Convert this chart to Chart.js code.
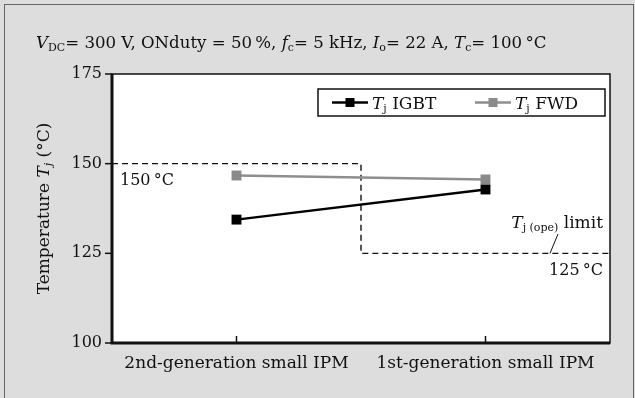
<!DOCTYPE html>
<html>
<head>
<meta charset="utf-8">
<script src="https://cdn.jsdelivr.net/npm/chart.js@4.4.1/dist/chart.umd.min.js"></script>
<style>
  html, body { margin: 0; padding: 0; background: #dcdddc; }
  #wrap { width: 635px; height: 398px; }
</style>
</head>
<body>
<div id="wrap"><canvas id="chart" width="635" height="398"></canvas></div>
<script>
// chart data
const categories = ['2nd-generation small IPM', '1st-generation small IPM'];
const igbtTemps = [134.4, 142.8];
const fwdTemps = [146.7, 145.6];
const yTicks = [100, 125, 150, 175];
const limitHigh = 150;   // Tj(ope) limit, 2nd gen
const limitLow = 125;    // Tj(ope) limit, 1st gen

const SERIF = '"DejaVu Serif", "Liberation Serif", serif';

// draw a run of text pieces: {t, it (italic), sub (subscript)}
function richText(ctx, parts, x, y, size, align) {
  const fontOf = p => (p.it ? 'italic ' : '') + (p.sub ? Math.round(size * 0.64) : size) + 'px ' + SERIF;
  let total = 0;
  parts.forEach(p => { ctx.font = fontOf(p); total += ctx.measureText(p.t).width; });
  let cx = x;
  if (align === 'center') cx = x - total / 2;
  if (align === 'right') cx = x - total;
  ctx.textAlign = 'left';
  ctx.textBaseline = 'alphabetic';
  parts.forEach(p => {
    ctx.font = fontOf(p);
    ctx.fillText(p.t, cx, p.sub ? y + size * 0.2 : y);
    cx += ctx.measureText(p.t).width;
  });
}

const decorPlugin = {
  id: 'decor',
  beforeDraw(chart) {
    const { ctx, chartArea: a } = chart;
    ctx.save();
    ctx.fillStyle = '#dcdddc';
    ctx.fillRect(0, 0, chart.width, chart.height);
    ctx.strokeStyle = '#666';
    ctx.lineWidth = 1;
    ctx.strokeRect(4.5, 4.5, chart.width - 6, chart.height - 4);
    ctx.fillStyle = '#fff';
    ctx.fillRect(a.left, a.top, a.right - a.left, a.bottom - a.top);
    ctx.restore();
  },
  beforeDatasetsDraw(chart) {
    const { ctx, chartArea: a, scales: { y } } = chart;
    const yh = y.getPixelForValue(limitHigh);
    const yl = y.getPixelForValue(limitLow);
    const mx = (a.left + a.right) / 2;
    ctx.save();
    ctx.strokeStyle = '#111';
    ctx.lineWidth = 1.4;
    ctx.setLineDash([6, 4]);
    ctx.beginPath();
    ctx.moveTo(a.left, yh);
    ctx.lineTo(mx, yh);
    ctx.lineTo(mx, yl);
    ctx.lineTo(a.right, yl);
    ctx.stroke();
    ctx.setLineDash([]);
    // leader for the limit label
    ctx.lineWidth = 1;
    ctx.beginPath();
    ctx.moveTo(558, 234);
    ctx.lineTo(550, yl);
    ctx.stroke();
    ctx.restore();
  },
  afterDraw(chart) {
    const { ctx, chartArea: a, scales: { x, y } } = chart;
    ctx.save();
    ctx.fillStyle = '#111';
    ctx.strokeStyle = '#111';
    // plot frame
    ctx.lineWidth = 1.5;
    ctx.strokeRect(a.left, a.top, a.right - a.left, a.bottom - a.top);
    ctx.lineWidth = 3;
    ctx.beginPath();
    ctx.moveTo(a.left, a.top);
    ctx.lineTo(a.left, a.bottom);
    ctx.lineTo(a.right, a.bottom);
    ctx.stroke();
    // ticks
    ctx.lineWidth = 1.5;
    yTicks.forEach(v => {
      const py = y.getPixelForValue(v);
      ctx.beginPath();
      ctx.moveTo(a.left - 7, py);
      ctx.lineTo(a.left, py);
      ctx.stroke();
    });
    categories.forEach((c, i) => {
      const px = x.getPixelForValue(i);
      ctx.beginPath();
      ctx.moveTo(px, a.bottom);
      ctx.lineTo(px, a.bottom - 7);
      ctx.stroke();
    });

    // header line
    richText(ctx, [
      { t: 'V', it: true }, { t: 'DC', sub: true }, { t: '= 300 V, ONduty = 50\u2009%, ' },
      { t: 'f', it: true }, { t: 'c', sub: true }, { t: '= 5 kHz, ' },
      { t: 'I', it: true }, { t: 'o', sub: true }, { t: '= 22 A, ' },
      { t: 'T', it: true }, { t: 'c', sub: true }, { t: '= 100\u2009°C' }
    ], 36, 48, 16.6, 'left');

    // y axis title
    ctx.save();
    ctx.translate(49, (a.top + a.bottom) / 2);
    ctx.rotate(-Math.PI / 2);
    richText(ctx, [
      { t: 'Temperature ' }, { t: 'T', it: true }, { t: 'j', it: true, sub: true }, { t: ' (°C)' }
    ], 0, 0, 17, 'center');
    ctx.restore();

    // limit labels
    richText(ctx, [{ t: '150\u2009°C' }], a.left + 8, 185, 16, 'left');
    richText(ctx, [{ t: '125\u2009°C' }], a.right - 7, 275, 16, 'right');
    richText(ctx, [
      { t: 'T', it: true }, { t: 'j (ope)', sub: true }, { t: ' limit' }
    ], a.right - 7, 228, 17, 'right');

    // legend
    const lx = 318, ly = 89, lw = 287, lh = 27;
    ctx.fillStyle = '#fff';
    ctx.fillRect(lx, ly, lw, lh);
    ctx.lineWidth = 1.5;
    ctx.strokeRect(lx, ly, lw, lh);
    const items = [
      { ds: chart.data.datasets[0], x: 332, label: 'IGBT' },
      { ds: chart.data.datasets[1], x: 475, label: 'FWD' }
    ];
    const cy = ly + lh / 2;
    items.forEach(it => {
      ctx.strokeStyle = it.ds.borderColor;
      ctx.lineWidth = it.ds.borderWidth;
      ctx.beginPath();
      ctx.moveTo(it.x, cy);
      ctx.lineTo(it.x + 36, cy);
      ctx.stroke();
      ctx.fillStyle = it.ds.pointBackgroundColor;
      ctx.fillRect(it.x + 13.5, cy - 4.5, 9, 9);
      ctx.fillStyle = '#111';
      richText(ctx, [{ t: 'T', it: true }, { t: 'j', sub: true }, { t: ' ' + it.label }], it.x + 40, ly + 20, 17, 'left');
    });
    ctx.restore();
  }
};

new Chart(document.getElementById('chart'), {
  type: 'line',
  data: {
    labels: categories,
    datasets: [
      {
        label: 'Tj IGBT',
        data: igbtTemps,
        borderColor: '#000',
        borderWidth: 2.5,
        pointStyle: 'rect',
        pointRadius: 7,
        pointBorderWidth: 0,
        pointBackgroundColor: '#000'
      },
      {
        label: 'Tj FWD',
        data: fwdTemps,
        borderColor: '#8e8e8e',
        borderWidth: 2.5,
        pointStyle: 'rect',
        pointRadius: 7,
        pointBorderWidth: 0,
        pointBackgroundColor: '#8a8a8a'
      }
    ]
  },
  options: {
    responsive: false,
    animation: false,
    layout: { padding: { left: 0, top: 74, right: 25, bottom: 0 } },
    plugins: { legend: { display: false }, tooltip: { enabled: false } },
    scales: {
      x: {
        offset: true,
        grid: { display: false, drawTicks: false },
        border: { display: false },
        ticks: { color: '#111', font: { family: SERIF, size: 17 }, padding: 10, maxRotation: 0 },
        afterFit: s => { s.height = 55; }
      },
      y: {
        min: 100,
        max: 175,
        afterBuildTicks: s => { s.ticks = yTicks.map(v => ({ value: v })); },
        grid: { display: false, drawTicks: false },
        border: { display: false },
        ticks: { color: '#111', font: { family: SERIF, size: 16 }, padding: 10 },
        afterFit: s => { s.width = 112; }
      }
    }
  },
  plugins: [decorPlugin]
});
</script>
</body>
</html>
